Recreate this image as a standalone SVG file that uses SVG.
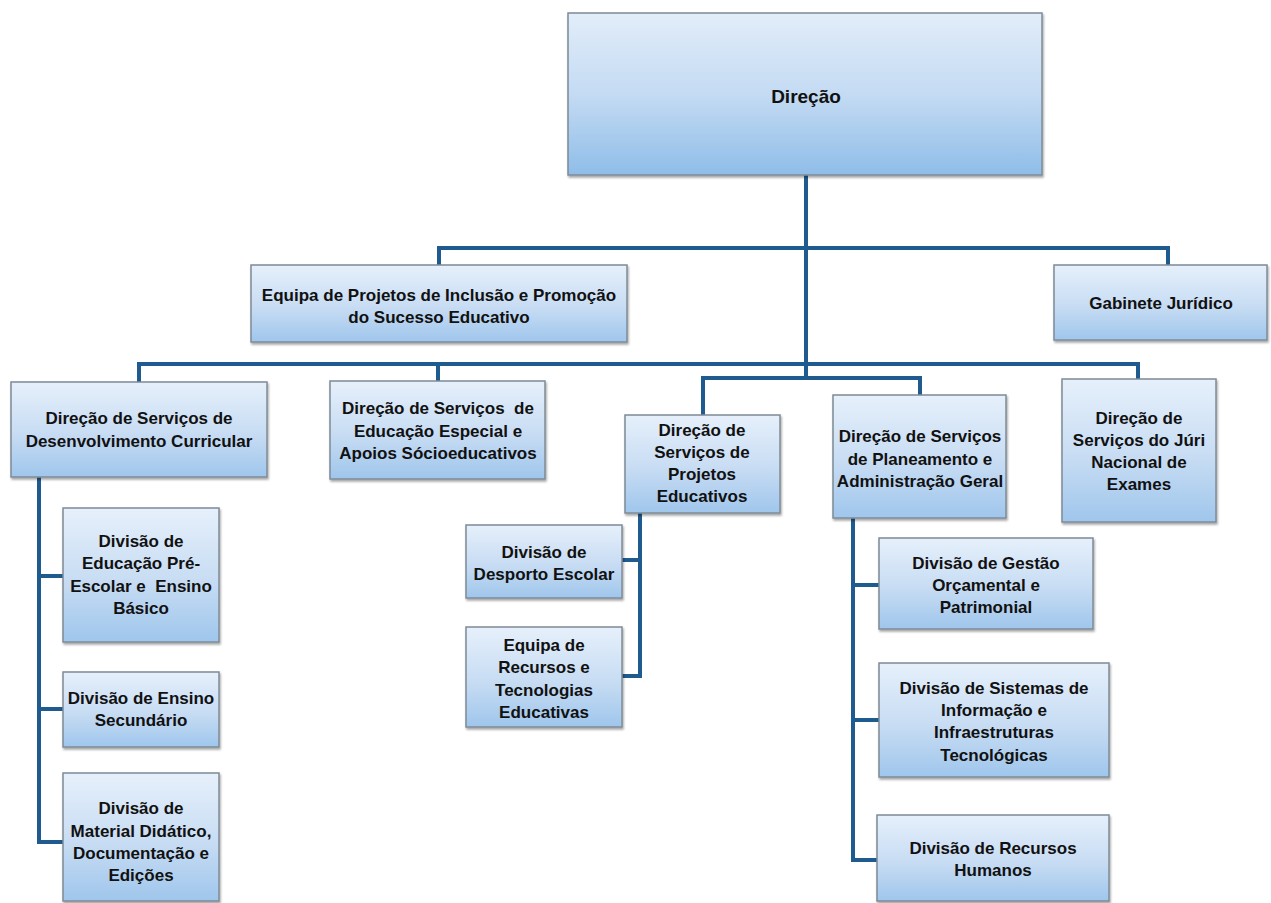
<svg xmlns="http://www.w3.org/2000/svg" width="1271" height="903" viewBox="0 0 1271 903">
<defs>
<linearGradient id="g" x1="0" y1="0" x2="0" y2="1">
<stop offset="0" stop-color="#e6f0fb"/>
<stop offset="0.55" stop-color="#c7dcf3"/>
<stop offset="1" stop-color="#9fc6ec"/>
</linearGradient>
<linearGradient id="g0" x1="0" y1="0" x2="0" y2="1">
<stop offset="0" stop-color="#e2edf9"/>
<stop offset="0.5" stop-color="#c4dbf3"/>
<stop offset="1" stop-color="#8fbde8"/>
</linearGradient>
<filter id="sh" x="-5%" y="-5%" width="110%" height="115%">
<feDropShadow dx="1" dy="2" stdDeviation="1.2" flood-color="#000" flood-opacity="0.35"/>
</filter>
</defs>
<style>
.box{fill:url(#g);stroke:#7e8b97;stroke-width:1.5;filter:url(#sh)}
.top{fill:url(#g0)}
.t{font-family:"Liberation Sans",Arial,sans-serif;font-weight:bold;font-size:17px;text-anchor:middle;fill:#111}
.c{fill:none;stroke:#1f5b8e;stroke-width:4;stroke-linecap:square}
</style>
<rect width="1271" height="903" fill="#fff"/>
<g id="connectors">
<path class="c" d="M806 175 V378"/>
<path class="c" d="M439 265 V248 H1168 V265"/>
<path class="c" d="M139 382 V364 H1138 V378"/>
<path class="c" d="M438 364 V381"/>
<path class="c" d="M703 415 V378 H920 V395"/>
<path class="c" d="M39 477 V842 H63"/>
<path class="c" d="M39 576 H63"/>
<path class="c" d="M39 709 H63"/>
<path class="c" d="M640 513 V676 H622"/>
<path class="c" d="M640 560 H622"/>
<path class="c" d="M853 518 V860 H877"/>
<path class="c" d="M853 585 H879"/>
<path class="c" d="M853 720 H879"/>
</g>
<g id="direcao">
<rect class="box top" x="568" y="13" width="474" height="162"/>
<text class="t" x="806" y="103" style="font-size:19px">Direção</text>
</g>
<g id="equipa-inclusao">
<rect class="box" x="251" y="265" width="376" height="77"/>
<text class="t" x="439" y="301">Equipa de Projetos de Inclusão e Promoção</text>
<text class="t" x="439" y="323">do Sucesso Educativo</text>
</g>
<g id="gabinete">
<rect class="box" x="1054" y="265" width="213" height="75"/>
<text class="t" x="1161" y="309">Gabinete Jurídico</text>
</g>
<g id="ds-curricular">
<rect class="box" x="11" y="382" width="256" height="95"/>
<text class="t" x="139" y="424">Direção de Serviços de</text>
<text class="t" x="139" y="447">Desenvolvimento Curricular</text>
</g>
<g id="ds-especial">
<rect class="box" x="330" y="381" width="215" height="98"/>
<text class="t" x="438" y="414" xml:space="preserve">Direção de Serviços  de</text>
<text class="t" x="438" y="437">Educação Especial e</text>
<text class="t" x="438" y="459">Apoios Sócioeducativos</text>
</g>
<g id="ds-projetos">
<rect class="box" x="625" y="415" width="155" height="98"/>
<text class="t" x="702" y="436">Direção de</text>
<text class="t" x="702" y="458">Serviços de</text>
<text class="t" x="702" y="480">Projetos</text>
<text class="t" x="702" y="502">Educativos</text>
</g>
<g id="ds-planeamento">
<rect class="box" x="833" y="395" width="173" height="123"/>
<text class="t" x="920" y="442">Direção de Serviços</text>
<text class="t" x="920" y="465">de Planeamento e</text>
<text class="t" x="920" y="487">Administração Geral</text>
</g>
<g id="ds-juri">
<rect class="box" x="1062" y="379" width="154" height="143"/>
<text class="t" x="1139" y="424">Direção de</text>
<text class="t" x="1139" y="446">Serviços do Júri</text>
<text class="t" x="1139" y="468">Nacional de</text>
<text class="t" x="1139" y="490">Exames</text>
</g>
<g id="div-pre-escolar">
<rect class="box" x="63" y="508" width="156" height="134"/>
<text class="t" x="141" y="547">Divisão de</text>
<text class="t" x="141" y="569">Educação Pré-</text>
<text class="t" x="141" y="592" xml:space="preserve">Escolar e  Ensino</text>
<text class="t" x="141" y="614">Básico</text>
</g>
<g id="div-secundario">
<rect class="box" x="63" y="672" width="156" height="75"/>
<text class="t" x="141" y="704">Divisão de Ensino</text>
<text class="t" x="141" y="726">Secundário</text>
</g>
<g id="div-material">
<rect class="box" x="63" y="773" width="156" height="128"/>
<text class="t" x="141" y="814">Divisão de</text>
<text class="t" x="141" y="837">Material Didático,</text>
<text class="t" x="141" y="859">Documentação e</text>
<text class="t" x="141" y="881">Edições</text>
</g>
<g id="div-desporto">
<rect class="box" x="466" y="525" width="156" height="73"/>
<text class="t" x="544" y="558">Divisão de</text>
<text class="t" x="544" y="580">Desporto Escolar</text>
</g>
<g id="equipa-recursos">
<rect class="box" x="466" y="627" width="156" height="100"/>
<text class="t" x="544" y="651">Equipa de</text>
<text class="t" x="544" y="673">Recursos e</text>
<text class="t" x="544" y="696">Tecnologias</text>
<text class="t" x="544" y="718">Educativas</text>
</g>
<g id="div-gestao">
<rect class="box" x="879" y="538" width="214" height="91"/>
<text class="t" x="986" y="569">Divisão de Gestão</text>
<text class="t" x="986" y="591">Orçamental e</text>
<text class="t" x="986" y="613">Patrimonial</text>
</g>
<g id="div-sistemas">
<rect class="box" x="879" y="663" width="230" height="114"/>
<text class="t" x="994" y="694">Divisão de Sistemas de</text>
<text class="t" x="994" y="716">Informação e</text>
<text class="t" x="994" y="738">Infraestruturas</text>
<text class="t" x="994" y="761">Tecnológicas</text>
</g>
<g id="div-rh">
<rect class="box" x="877" y="815" width="232" height="86"/>
<text class="t" x="993" y="854">Divisão de Recursos</text>
<text class="t" x="993" y="876">Humanos</text>
</g>
</svg>
